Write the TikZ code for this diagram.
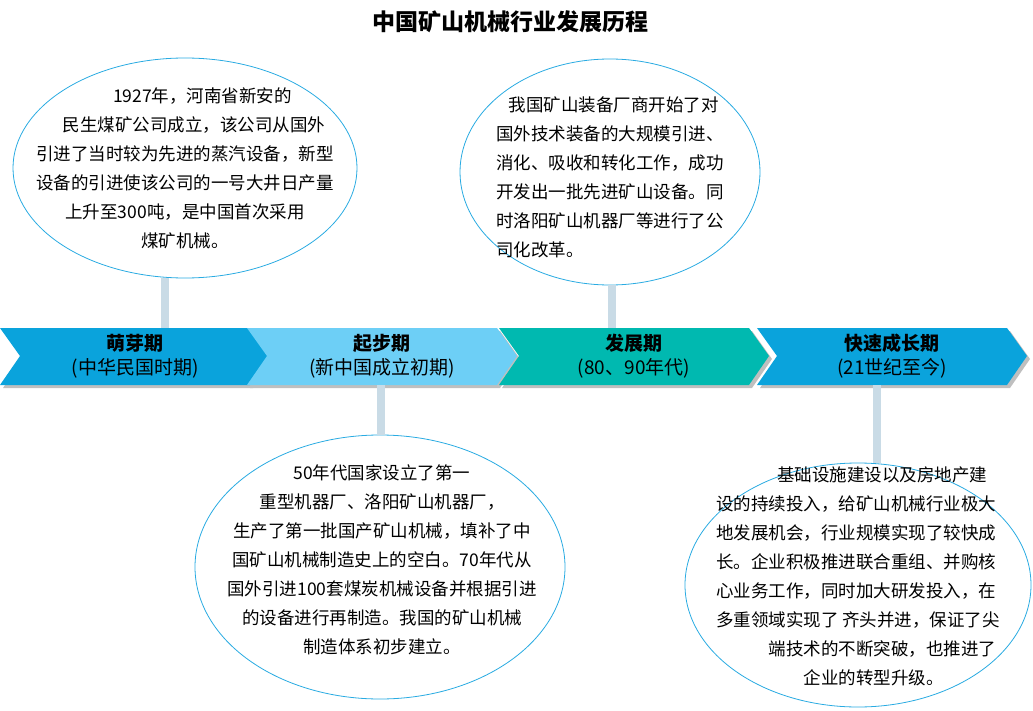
\documentclass[tikz,border=0pt]{standalone}
\usepackage{fontspec}
\setmainfont{Noto Sans CJK SC}
\usetikzlibrary{positioning}
\definecolor{phaseA}{HTML}{0AA3DC}
\definecolor{phaseB}{HTML}{6DCFF6}
\definecolor{phaseC}{HTML}{00B9B0}
\definecolor{ovalline}{HTML}{29ABE2}
\definecolor{barcol}{HTML}{C9DBE6}
\begin{document}
\begin{tikzpicture}[x=1pt,y=-1pt]
	\tikzset{
		oval/.style={draw=ovalline,line width=0.8pt,ellipse,inner sep=0pt},
		txt/.style={font=\fontsize{17.5}{29}\selectfont,inner sep=0pt},
		stem/.style={barcol,line width=8pt},
		phase/.style={font=\fontsize{19}{24}\selectfont,align=center,inner sep=0pt}
	}
	\useasboundingbox (0,0) rectangle (1033,711);
	\node[font=\fontsize{23}{26}\selectfont\bfseries] (title) at (510,22) {中国矿山机械行业发展历程};
	% ellipses
	\draw[ovalline,line width=0.8pt,fill=white] (185,168) ellipse [x radius=172,y radius=110];
	\draw[ovalline,line width=0.8pt,fill=white] (610,172) ellipse [x radius=150,y radius=113];
	\draw[ovalline,line width=0.8pt,fill=white] (380,567) ellipse [x radius=185,y radius=132];
	\draw[ovalline,line width=0.8pt,fill=white] (858,585) ellipse [x radius=173,y radius=122];
	\coordinate (e1) at (165,278);
	\coordinate (e2) at (612,285);
	\coordinate (e3) at (381,435);
	\coordinate (e4) at (877,463);
	% chevrons
	\foreach \x/\c/\n in {0/phaseA/p1, 247/phaseB/p2, 499/phaseC/p3, 757/phaseA/p4}{
		\fill[black!25] (\x+3,331) -- ++(250,0) -- ++(20,28) -- ++(-20,29) -- ++(-250,0) -- ++(20,-29) -- cycle;
		\fill[\c] (\x,328) -- ++(250,0) -- ++(20,28) -- ++(-20,29) -- ++(-250,0) -- ++(20,-29) -- cycle;
		\coordinate (\n) at (\x+135,356);
	}
	\node[phase] (l1) at (p1) {\textbf{萌芽期}\\(中华民国时期)};
	\node[phase] (l2) at (p2) {\textbf{起步期}\\(新中国成立初期)};
	\node[phase] (l3) at (p3) {\textbf{发展期}\\(80、90年代)};
	\node[phase] (l4) at (p4) {\textbf{快速成长期}\\(21世纪至今)};
	\draw[stem] (e1) -- (e1 |- 0,328);
	\draw[stem] (e2) -- (e2 |- 0,328);
	\draw[stem] (e3) -- (e3 |- 0,385);
	\draw[stem] (e4) -- (e4 |- 0,385);
	% texts
	\node[txt,align=center] (t1) at (185,168) {\hspace*{2em}1927年，河南省新安的\\\hspace*{1em}民生煤矿公司成立，该公司从国外\\引进了当时较为先进的蒸汽设备，新型\\设备的引进使该公司的一号大井日产量\\上升至300吨，是中国首次采用\\煤矿机械。};
	\node[txt,align=left] (t2) at (610,177) {\hspace*{0.7em}我国矿山装备厂商开始了对\\国外技术装备的大规模引进、\\消化、吸收和转化工作，成功\\开发出一批先进矿山设备。同\\时洛阳矿山机器厂等进行了公\\司化改革。};
	\node[txt,align=center] (t3) at (382,560) {50年代国家设立了第一\\重型机器厂、洛阳矿山机器厂，\\生产了第一批国产矿山机械，填补了中\\国矿山机械制造史上的空白。70年代从\\国外引进100套煤炭机械设备并根据引进\\的设备进行再制造。我国的矿山机械\\制造体系初步建立。};
	\node[txt,align=left] (t4) at (858,576) {\hspace*{3.5em}基础设施建设以及房地产建\\设的持续投入，给矿山机械行业极大\\地发展机会，行业规模实现了较快成\\长。企业积极推进联合重组、并购核\\心业务工作，同时加大研发投入，在\\多重领域实现了 齐头并进，保证了尖\\\hspace*{3em}端技术的不断突破，也推进了\\\hspace*{5em}企业的转型升级。};
\end{tikzpicture}
\end{document}
